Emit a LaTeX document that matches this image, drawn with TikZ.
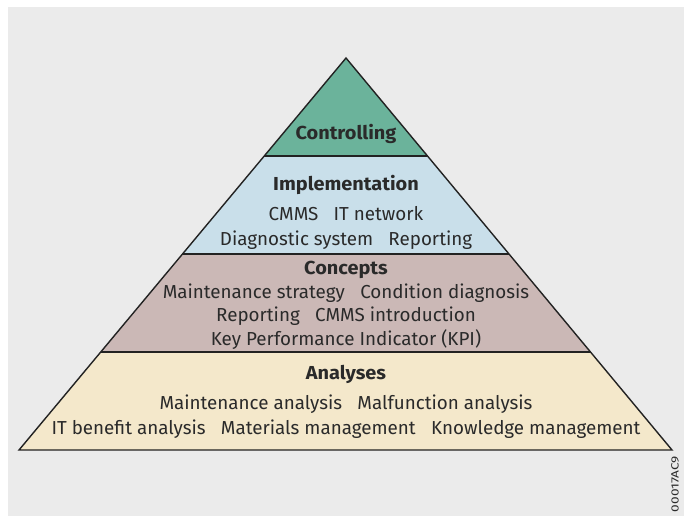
\documentclass[tikz,border=0pt]{standalone}
\usepackage{fontspec}
\setmainfont{Fira Sans}[BoldFeatures={FakeStretch=1.06}]
\usetikzlibrary{calc}
\definecolor{bggray}{HTML}{EBEBEB}
\definecolor{ctrlgreen}{HTML}{6BB39B}
\definecolor{implblue}{HTML}{C9DFEA}
\definecolor{concpink}{HTML}{CBB8B6}
\definecolor{analyellow}{HTML}{F4E8CB}
\definecolor{txt}{HTML}{2A2A2A}
\definecolor{edge}{HTML}{222222}
\begin{document}
\begin{tikzpicture}[x=1pt,y=-1pt,
  lbl/.style={anchor=base,inner sep=0pt,text=txt,font=\fontsize{18.8}{22}\selectfont},
  head/.style={lbl,font=\fontsize{18.8}{22}\selectfont\bfseries},
  edgeline/.style={draw=edge,line width=1.4pt,line join=miter}]
\useasboundingbox (0,0) rectangle (687,517);
\fill[bggray] (8,7) rectangle (684,516);
\coordinate (A) at (346,58);
\coordinate (BL) at (19,450);
\coordinate (BR) at (672,450);
\coordinate (L1) at ($(A)!0.25!(BL)$);
\coordinate (R1) at ($(A)!0.25!(BR)$);
\coordinate (L2) at ($(A)!0.5!(BL)$);
\coordinate (R2) at ($(A)!0.5!(BR)$);
\coordinate (L3) at ($(A)!0.75!(BL)$);
\coordinate (R3) at ($(A)!0.75!(BR)$);
\fill[ctrlgreen] (A) -- (R1) -- (L1) -- cycle;
\fill[implblue] (L1) -- (R1) -- (R2) -- (L2) -- cycle;
\fill[concpink] (L2) -- (R2) -- (R3) -- (L3) -- cycle;
\fill[analyellow] (L3) -- (R3) -- (BR) -- (BL) -- cycle;
\draw[edgeline] (L1) -- (R1);
\draw[edgeline] (L2) -- (R2);
\draw[edgeline] (L3) -- (R3);
\draw[edgeline] (A) -- (BR) -- (BL) -- cycle;
\node[head] (ctrl) at (346,139) {Controlling};
\node[head] (impl) at (346,190.5) {Implementation};
\node[lbl] (impl1) at (346,220.5) {CMMS\hspace{0.55em} IT network};
\node[lbl] (impl2) at (346,245) {Diagnostic system\hspace{0.55em} Reporting};
\node[head] (conc) at (346,274) {Concepts};
\node[lbl] (conc1) at (346,298) {Maintenance strategy\hspace{0.55em} Condition diagnosis};
\node[lbl] (conc2) at (346,321.5) {Reporting\hspace{0.55em} CMMS introduction};
\node[lbl] (conc3) at (346,345.5) {Key Performance Indicator (KPI)};
\node[head] (anal) at (346,379) {Analyses};
\node[lbl] (anal1) at (346,409) {Maintenance analysis\hspace{0.55em} Malfunction analysis};
\node[lbl] (anal2) at (346,434.5) {IT benefit analysis\hspace{0.55em} Materials management\hspace{0.55em} Knowledge management};
\node[inner sep=0pt,text=txt,rotate=90,font=\fontsize{10.5}{13}\selectfont] (code) at (675,484) {\scalebox{1.3}[1]{00017AC9}};
\end{tikzpicture}
\end{document}
